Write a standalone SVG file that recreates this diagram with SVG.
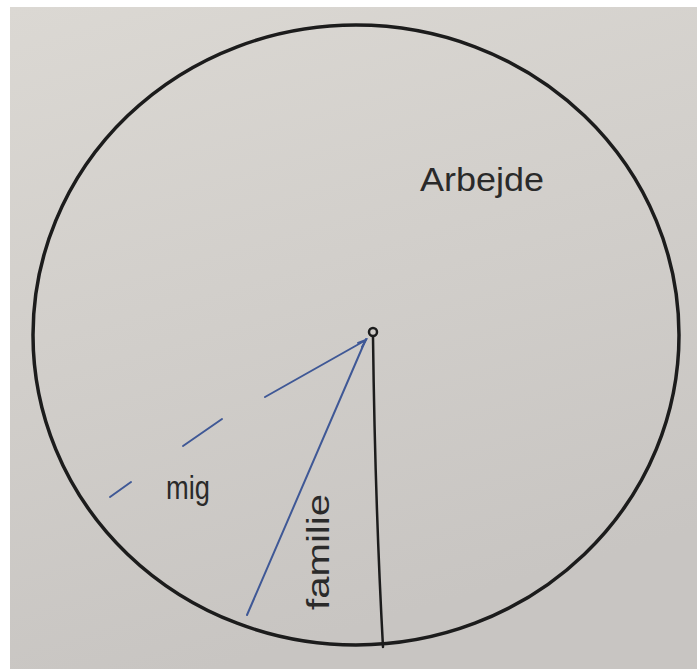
<svg xmlns="http://www.w3.org/2000/svg" width="697" height="669" viewBox="0 0 697 669">
<style>
.ink{fill:none;stroke:#1c1c1c;stroke-linecap:round;stroke-linejoin:round}
.blue{fill:none;stroke:#3f5896;stroke-width:2;stroke-linecap:round}
.hand{font-family:"Liberation Sans","DejaVu Sans",sans-serif;fill:#2a2a2a}
</style>
<defs>
<linearGradient id="paper" x1="0" y1="0" x2="0.3" y2="1">
<stop offset="0" stop-color="#dbd8d3"/>
<stop offset="1" stop-color="#c8c5c2"/>
</linearGradient>
</defs>
<rect x="0" y="0" width="697" height="669" fill="#ffffff"/>
<rect x="10" y="7" width="687" height="662" fill="url(#paper)"/>
<g id="pie">
<ellipse class="ink" cx="356" cy="335" rx="323" ry="310" stroke-width="3.5"/>
</g>
<g id="connectors">
<circle class="ink" cx="373" cy="332" r="4" stroke-width="2.5"/>
<path class="ink" d="M373,337 Q375,500 383,647" stroke-width="2.5"/>
<path class="blue" d="M366,339 L247,615"/>
<path class="blue" d="M265,397 L366,340 M358,343 L366,340 L362,347"/>
<path class="blue" d="M183,446 L222,419"/>
<path class="blue" d="M110,497 L131,482"/>
</g>
<g id="arbejde">
<text class="hand" x="420" y="191" font-size="33" textLength="124" lengthAdjust="spacingAndGlyphs">Arbejde</text>
</g>
<g id="mig">
<text class="hand" x="166" y="499" font-size="34" textLength="44" lengthAdjust="spacingAndGlyphs">mig</text>
</g>
<g id="familie">
<text class="hand" transform="translate(329,610) rotate(-90)" x="0" y="0" font-size="32" textLength="116" lengthAdjust="spacingAndGlyphs">familie</text>
</g>
</svg>
